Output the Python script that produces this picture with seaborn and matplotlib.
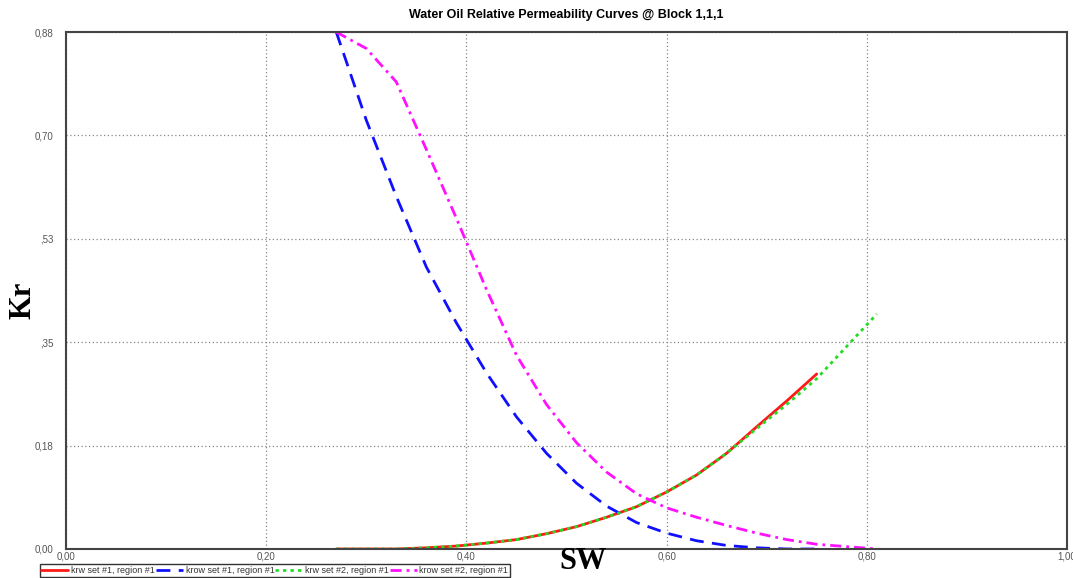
import numpy as np
import pandas as pd
import matplotlib
matplotlib.use("Agg")
import matplotlib.pyplot as plt
import seaborn as sns

# ── data ──
sw_set1 = [0.27, 0.30, 0.33, 0.36, 0.39, 0.42, 0.45, 0.48, 0.51, 0.54,
           0.57, 0.60, 0.63, 0.66, 0.69, 0.72, 0.75]
krw_set1 = [0.0, 0.0, 0.0, 0.002, 0.005, 0.010, 0.016, 0.026, 0.038, 0.054,
            0.072, 0.097, 0.126, 0.163, 0.208, 0.252, 0.298]
krow_set1 = [0.88, 0.73, 0.60, 0.48, 0.385, 0.300, 0.225, 0.163, 0.112, 0.073,
             0.045, 0.027, 0.014, 0.006, 0.002, 0.0, 0.0]

sw_set2 = [0.27, 0.30, 0.33, 0.36, 0.39, 0.42, 0.45, 0.48, 0.51, 0.54,
           0.57, 0.60, 0.63, 0.66, 0.69, 0.72, 0.75, 0.78, 0.81]
krw_set2 = [0.0, 0.0, 0.0, 0.002, 0.005, 0.010, 0.016, 0.026, 0.038, 0.054,
            0.072, 0.097, 0.126, 0.163, 0.205, 0.246, 0.290, 0.345, 0.400]
krow_set2 = [0.88, 0.852, 0.795, 0.68, 0.563, 0.442, 0.330, 0.246, 0.181, 0.131,
             0.094, 0.070, 0.054, 0.040, 0.027, 0.016, 0.008, 0.004, 0.0]

x_ticks = [0.0, 0.2, 0.4, 0.6, 0.8, 1.0]
x_labels = ["0,00", "0,20", "0,40", "0,60", "0,80", "1,00"]
y_ticks = [0.0, 0.176, 0.352, 0.528, 0.704, 0.88]
y_labels = ["0,00", "0,18", ",35", ",53", "0,70", "0,88"]

series_names = ["krw set #1, region #1", "krow set #1, region #1",
                "krw set #2, region #1", "krow set #2, region #1"]

sns.set_style("white")
plt.rcParams["font.family"] = ["Liberation Sans", "DejaVu Sans"]
plt.rcParams["text.color"] = "black"

fig = plt.figure(figsize=(10.73, 5.78), dpi=100)
ax = fig.add_axes([0.0615, 0.0502, 0.9329, 0.8944])

styles = [
    (sw_set1, krw_set1, "#ff1a1a", "-"),
    (sw_set1, krow_set1, "#1010ff", (0, (5, 3))),
    (sw_set2, krw_set2, "#22dd22", (0, (1.2, 1.5))),
    (sw_set2, krow_set2, "#ff10ff", (0, (4, 1.8, 1, 1.8))),
]
for (xs, ys, col, ls), name in zip(styles, series_names):
    sns.lineplot(x=xs, y=ys, ax=ax, color=col, linestyle=ls, linewidth=2,
                 estimator=None, sort=False, label=name, legend=False)

ax.set_xlim(0, 1)
ax.set_ylim(0, 0.88)
ax.set_xticks(x_ticks)
ax.set_xticklabels(x_labels)
ax.set_yticks(y_ticks)
ax.set_yticklabels(y_labels)
ax.tick_params(axis="both", labelsize=7, labelcolor="#555555", colors="#888888",
               length=0, pad=2)
ax.tick_params(axis="y", length=6, width=0.8, pad=3)
for t in ax.yaxis.get_major_ticks():
    t.tick1line.set_linestyle((0, (1, 1.5)))

ax.grid(True, color="#888888", linestyle=(0, (1, 2)), linewidth=0.9)
for sp in ax.spines.values():
    sp.set_color("#444444")
    sp.set_linewidth(1.5)
ax.set_xlabel("")
ax.set_ylabel("")

ax.set_title("Water Oil Relative Permeability Curves @ Block 1,1,1",
             fontsize=9, fontweight="bold", pad=10, color="black")

fig.text(0.021, 0.48, "Kr", rotation=90, ha="center", va="center",
         fontsize=22, fontweight="bold", family="Liberation Serif", color="black")
fig.text(0.543, 0.029, "SW", ha="center", va="center",
         fontsize=22, fontweight="bold", family="Liberation Serif", color="black")

handles, labels = ax.get_legend_handles_labels()
leg = fig.legend(handles, labels, loc="lower left", ncol=4,
                 bbox_to_anchor=(0.036, 0.0), fontsize=6.5, frameon=True,
                 fancybox=False, edgecolor="black", borderpad=0.2,
                 columnspacing=0.1, handlelength=3.0, handletextpad=0.3,
                 borderaxespad=0.1, labelcolor="#333333")
leg.get_frame().set_linewidth(1.0)

fig.savefig("out.png", dpi=100)
